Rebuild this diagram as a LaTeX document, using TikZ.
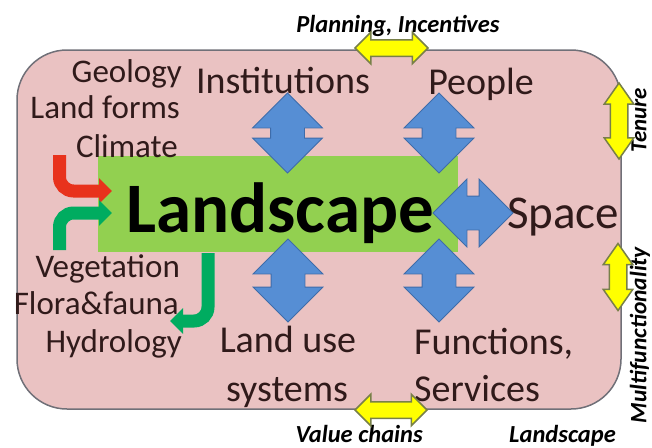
\documentclass[tikz,border=0pt]{standalone}
\usepackage{fontspec}
\setmainfont{Carlito}
\usetikzlibrary{shapes.arrows,arrows.meta}
\definecolor{pinkbg}{RGB}{234,194,194}
\definecolor{pinkedge}{RGB}{112,112,120}
\definecolor{lightgreen}{RGB}{146,208,80}
\definecolor{txtdark}{RGB}{48,26,26}
\definecolor{bluefill}{RGB}{86,142,212}
\definecolor{blueedge}{RGB}{62,108,170}
\definecolor{yellowfill}{RGB}{255,255,0}
\definecolor{yellowedge}{RGB}{120,128,72}
\definecolor{redarr}{RGB}{232,50,28}
\definecolor{greenarr}{RGB}{0,172,96}
\begin{document}
\begin{tikzpicture}[x=1pt,y=-1pt,
  lbl/.style={font=\fontsize{33}{38}\selectfont, text=txtdark, inner sep=0pt},
  midlbl/.style={font=\fontsize{38}{46}\selectfont, text=txtdark, inner sep=0pt},
  tag/.style={font=\fontsize{24.5}{28}\selectfont\bfseries\itshape, text=black, inner sep=0pt},
  bluedarrow/.style={shape=double arrow, fill=bluefill, draw=blueedge, line width=0.8pt,
    inner xsep=0pt, inner ysep=16.5pt, double arrow head extend=18pt,
    double arrow tip angle=90, minimum width=0pt},
  yellowdarrow/.style={shape=double arrow, fill=yellowfill, draw=yellowedge, line width=1.5pt,
    inner xsep=0pt, inner ysep=7.5pt, double arrow head extend=7.5pt,
    double arrow tip angle=90, minimum width=0pt},
  curvearrow/.style={line width=13pt, rounded corners=14pt, -{Triangle[width=25pt,length=13pt]}},
]
\useasboundingbox (0,0) rectangle (652,447);
% background panels
\draw[fill=pinkbg, draw=pinkedge, line width=1.5pt, rounded corners=50pt] (17,50) rectangle (621,409);
\fill[lightgreen] (98,156) rectangle (458,252);
% main label
\node[font=\fontsize{71}{80}\selectfont\bfseries, text=black, inner sep=0pt, anchor=base] (land) at (280,232) {Landscape};
% left labels
\node[lbl, anchor=base east] (geo) at (182,82) {Geology};
\node[lbl, anchor=base east] (lforms) at (180,118) {Land forms};
\node[lbl, anchor=base east] (clim) at (178,157) {Climate};
\node[lbl, anchor=base east] (veg) at (180,277) {Vegetation};
\node[lbl, anchor=base east] (flora) at (179,314) {Flora\&fauna};
\node[lbl, anchor=base east] (hydro) at (182,352) {Hydrology};
% main concepts
\node[midlbl, anchor=base] (inst) at (283,93) {Institutions};
\node[midlbl, anchor=base] (people) at (481,94) {People};
\node[font=\fontsize{47}{54}\selectfont, text=txtdark, inner sep=0pt, anchor=base west] (space) at (507,228) {Space};
\node[midlbl, anchor=base] (luse1) at (288,352) {Land use};
\node[midlbl, anchor=base] (luse2) at (287,401) {systems};
\node[midlbl, anchor=base west] (func1) at (414,354) {Functions,};
\node[midlbl, anchor=base west] (func2) at (414,401) {Services};
% tags
\node[tag, anchor=base] (plan) at (398,32) {Planning, Incentives};
\node[tag, anchor=base east] (value) at (423,442) {Value chains};
\node[tag, anchor=base east] (lscape) at (616,442) {Landscape};
\node[tag, rotate=90, font=\fontsize{23}{28}\selectfont\bfseries\itshape] (tenure) at (639,120) {Tenure};
\node[tag, rotate=90, font=\fontsize{23.5}{28}\selectfont\bfseries\itshape] (multi) at (640,335) {Multifunctionality};
% blue double arrows
\node[bluedarrow, minimum height=80pt, rotate=90] (a1) at (287.5,133) {};
\node[bluedarrow, minimum height=80pt, rotate=90] (a2) at (439,133) {};
\node[bluedarrow, minimum height=83pt, rotate=90] (a3) at (288,280.5) {};
\node[bluedarrow, minimum height=83pt, rotate=90] (a4) at (439,280.5) {};
\node[bluedarrow, minimum height=80pt, double arrow head extend=17pt] (a5) at (473,213) {};
% yellow double arrows
\node[yellowdarrow, minimum height=73pt] (y1) at (391.5,48) {};
\node[yellowdarrow, minimum height=72pt] (y2) at (391,410) {};
\node[yellowdarrow, minimum height=76pt, rotate=90, inner ysep=8pt, double arrow head extend=6pt, double arrow tip angle=70] (y3) at (619,121) {};
\node[yellowdarrow, minimum height=67pt, rotate=90, inner ysep=8pt, double arrow head extend=6pt, double arrow tip angle=70] (y4) at (618,277) {};
% curved arrows
\coordinate (redstart) at (59.5,155);
\coordinate (redend) at (112,191);
\coordinate (gstart) at (59.5,250);
\coordinate (gend) at (112,213);
\coordinate (hstart) at (208,253);
\coordinate (hend) at (170,321);
\draw[curvearrow, draw=redarr] (redstart) |- (redend);
\draw[curvearrow, draw=greenarr] (gstart) |- (gend);
\draw[curvearrow, draw=greenarr] (hstart) |- (hend);
\end{tikzpicture}
\end{document}
